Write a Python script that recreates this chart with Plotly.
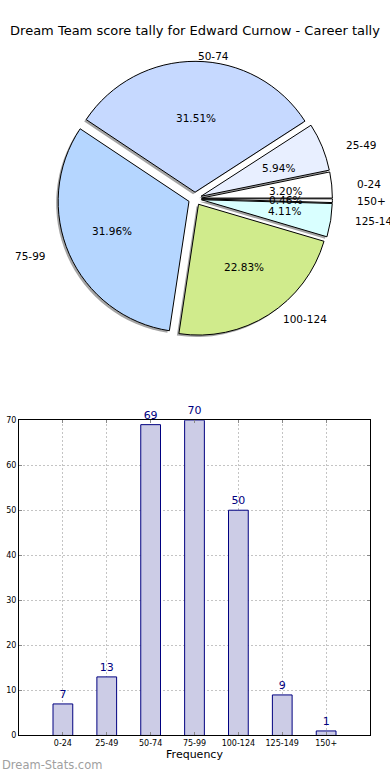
import math
import plotly.graph_objects as go

categories = ["0-24", "25-49", "50-74", "75-99", "100-124", "125-149", "150+"]
counts = [7, 13, 69, 70, 50, 9, 1]
pie_colors = ["#ffffff", "#e8efff", "#c6d9ff", "#b5d6ff", "#d0eb8c", "#d9ffff", "#ffffff"]
y_ticks = [0, 10, 20, 30, 40, 50, 60, 70]
title_text = "Dream Team score tally for Edward Curnow - Career tally"

W, H = 390, 780
FONT = "DejaVu Sans"

# pie layout (pixels)
cx, cy = 195.0, 197.0
half = 139.0
pull = 0.05
# text geometry (the reference pie is slightly elliptical)
sx, sy = 139.5, 125.7

total = sum(counts)
# first slice starts at 3 o'clock, going counterclockwise (plotly anchors the
# first slice's far edge at `rotation` when direction is counterclockwise)
rotation = 90 - 360.0 * counts[0] / total


def px_to_paper(x, y):
    return x / W, 1 - y / H


x0, y1 = px_to_paper(cx - half, cy - half)
x1, y0 = px_to_paper(cx + half, cy + half)
dx, dy = 2 / W, 2 / H

fig = go.Figure()

# shadow
fig.add_trace(go.Pie(
    labels=categories, values=counts, sort=False, direction="counterclockwise",
    rotation=rotation, pull=[pull] * len(counts),
    marker=dict(colors=["rgba(90,90,90,0.55)"] * len(counts), line=dict(width=0)),
    textinfo="none", hoverinfo="skip", showlegend=False,
    domain=dict(x=[x0 - dx, x1 - dx], y=[y0 - dy, y1 - dy]),
))
# main pie
fig.add_trace(go.Pie(
    labels=categories, values=counts, sort=False, direction="counterclockwise",
    rotation=rotation, pull=[pull] * len(counts),
    marker=dict(colors=pie_colors, line=dict(color="black", width=1)),
    textinfo="none", showlegend=False,
    domain=dict(x=[x0, x1], y=[y0, y1]),
))

annotations = []
cum = 0.0
for lab, v in zip(categories, counts):
    a0 = cum / total * 360
    cum += v
    a1 = cum / total * 360
    th = math.radians((a0 + a1) / 2)
    c, s = math.cos(th), math.sin(th)
    # outer label
    lx = cx + sx * (pull + 1.1) * c
    ly = cy - sy * (pull + 1.1) * s
    px, py = px_to_paper(lx, ly)
    annotations.append(dict(x=px, y=py, xref="paper", yref="paper", text=lab,
                            showarrow=False, xanchor="left" if c > 0 else "right",
                            yanchor="middle", font=dict(family=FONT, size=10.5, color="black")))
    # percentage
    tx = cx + sx * (pull + 0.6) * c
    ty = cy - sy * (pull + 0.6) * s
    px, py = px_to_paper(tx, ty)
    annotations.append(dict(x=px, y=py, xref="paper", yref="paper",
                            text="%.2f%%" % (100 * v / total),
                            showarrow=False, xanchor="center", yanchor="middle",
                            font=dict(family=FONT, size=10.5, color="black")))

annotations.append(dict(x=0, y=1 - 770 / H, xref="paper", yref="paper", text="Dream-Stats.com",
                        showarrow=False, xanchor="left", yanchor="middle",
                        font=dict(family=FONT, size=11.5, color="#a0a0a0")))

# bar chart
fig.add_trace(go.Bar(
    x=categories, y=counts, width=0.45,
    marker=dict(color="#ccccE6", line=dict(color="#000080", width=1)),
    text=[str(v) for v in counts], textposition="outside", cliponaxis=False,
    textfont=dict(family=FONT, size=11, color="#000080"),
    showlegend=False,
))

grid = dict(showgrid=True, gridcolor="#c4c4c4", griddash="2px,2px", gridwidth=1)

fig.update_layout(
    width=W, height=H, margin=dict(l=0, r=0, t=0, b=0),
    paper_bgcolor="white", plot_bgcolor="white",
    font=dict(family=FONT, color="black"),
    title=dict(text=title_text, x=0.5, xanchor="center", y=1 - 30 / H, yanchor="middle",
               font=dict(family=FONT, size=13, color="black")),
    annotations=annotations,
    xaxis=dict(domain=[19 / W, 370 / W], range=[-1, 7], type="category",
               showline=True, linecolor="black", linewidth=1, mirror="ticks",
               ticks="inside", ticklen=3, tickcolor="#888",
               tickfont=dict(family=FONT, size=8, color="black"),
               title=dict(text="Frequency", font=dict(family=FONT, size=11), standoff=2),
               **grid),
    yaxis=dict(domain=[1 - 740 / H, 1 - 421 / H], range=[0, 70],
               tickvals=y_ticks, ticktext=[str(t) for t in y_ticks],
               showline=True, linecolor="black", linewidth=1, mirror="ticks",
               ticks="inside", ticklen=3, tickcolor="#888",
               zeroline=False,
               tickfont=dict(family=FONT, size=8, color="black"),
               **grid),
)

fig.write_html("out.html", config={"displayModeBar": False},
               post_script="document.body.style.margin='0';document.body.style.overflow='hidden';")
